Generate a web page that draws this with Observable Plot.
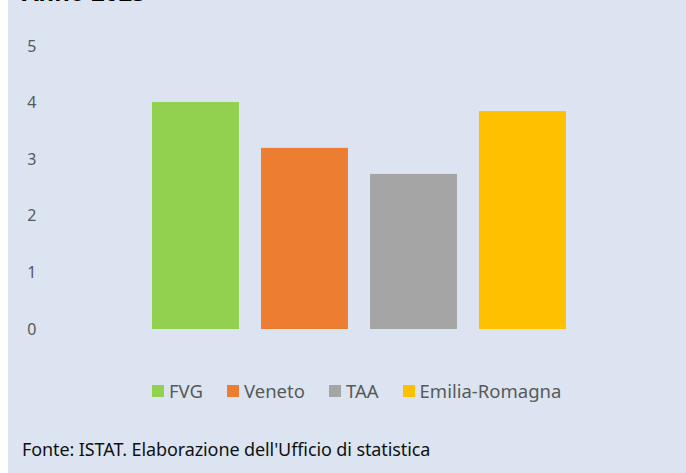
<!DOCTYPE html>
<html>
<head>
<meta charset="utf-8">
<script src="https://cdn.jsdelivr.net/npm/d3@7"></script>
<script src="https://cdn.jsdelivr.net/npm/@observablehq/plot@0.6"></script>
<style>
  html, body { margin: 0; padding: 0; background: #fff; }
  #wrap { position: relative; width: 678px; height: 473px; margin-left: 8px; background: #dbe4f0; overflow: hidden; font-family: "Noto Sans", sans-serif; }
  #title { position: absolute; left: 14px; top: -25px; font-size: 24px; font-weight: bold; color: #000; }
  #chart { position: absolute; left: -8px; top: 0; }
  #legend { position: absolute; left: -8px; top: 374px; width: 686px; }
  #caption { position: absolute; left: 14px; top: 437px; font-size: 18px; color: #111; letter-spacing: -0.1px; }
  .lg { font-size: 18.5px !important; color: #595959 !important; }
  .lg-swatch { margin-right: 24px !important; }
  .lg-swatch svg { margin-right: 5px !important; }
</style>
</head>
<body>
<div id="wrap">
  <div id="title">Anno 2023</div>
  <div id="chart"></div>
  <div id="legend"></div>
  <div id="caption">Fonte: ISTAT. Elaborazione dell'Ufficio di statistica</div>
</div>
<script>
const regions = ["FVG", "Veneto", "TAA", "Emilia-Romagna"];
const values = [4.01, 3.2, 2.74, 3.85];
const colors = ["#92d050", "#ed7d31", "#a5a5a5", "#ffc000"];
const yTicks = [0, 1, 2, 3, 4, 5];

const data = regions.map((r, i) => ({region: r, value: values[i]}));

const plot = Plot.plot({
  width: 686,
  height: 360,
  marginLeft: 140,
  marginRight: 109,
  marginTop: 46,
  marginBottom: 31,
  style: {background: "transparent", fontFamily: "Noto Sans, sans-serif", fontSize: "16px", color: "#595959"},
  x: {domain: regions, paddingInner: 0.205, paddingOuter: 0.1025, axis: null},
  y: {domain: [0, 5]},
  color: {domain: regions, range: colors},
  marks: [
    Plot.axisY({ticks: yTicks, tickFormat: "d", tickSize: 0, tickPadding: 104, label: null, fill: "#595959", fontSize: 16}),
    Plot.barY(data, {x: "region", y: "value", fill: "region"})
  ]
});
document.getElementById("chart").appendChild(plot);

const legend = Plot.legend({
  color: {domain: regions, range: colors},
  swatchSize: 12,
  className: "lg",
  style: {background: "transparent", fontFamily: "Noto Sans, sans-serif", fontSize: "18.5px", color: "#595959"}
});
document.getElementById("legend").appendChild(legend);
// align first swatch with the reference position (page x = 152)
const firstSvg = legend.querySelector("svg");
if (firstSvg) {
  const left = firstSvg.getBoundingClientRect().left;
  const cur = parseFloat(getComputedStyle(legend).marginLeft) || 0;
  legend.style.setProperty("margin-left", (cur + 152 - left) + "px", "important");
}
</script>
</body>
</html>
